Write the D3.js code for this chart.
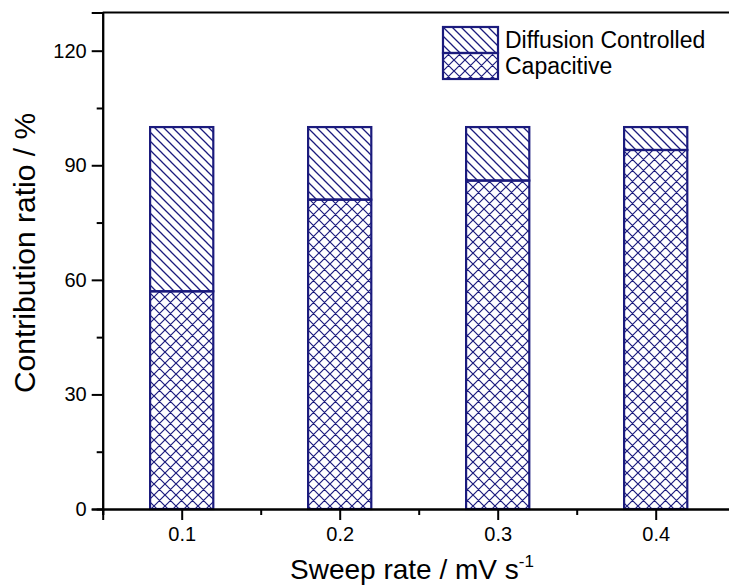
<!DOCTYPE html>
<html>
<head>
<meta charset="utf-8">
<script src="https://cdn.jsdelivr.net/npm/d3@7/dist/d3.min.js"></script>
<style>
  html, body { margin: 0; padding: 0; background: #fff; }
  svg { display: block; font-family: Arial, "Liberation Sans", sans-serif; }
</style>
</head>
<body>
<svg id="chart" width="729" height="588"></svg>
<script>
// Sweep rates (mV/s) and the share of charge storage from each mechanism (%)
const sweepRates = [0.1, 0.2, 0.3, 0.4];
const capacitive = [57, 81, 86, 94];
const diffusion = [43, 19, 14, 6];
const yTicks = [0, 30, 60, 90, 120];
const yMinorTicks = [15, 45, 75, 105];
const xMinorTicks = [0.05, 0.15, 0.25, 0.35, 0.45];
const seriesNames = ["Diffusion Controlled", "Capacitive"];

const navy = "#1b1b7d";
const svg = d3.select("#chart");

const x = d3.scaleLinear().domain([0.05, 0.45]).range([102.7, 734.7]);
const y = d3.scaleLinear().domain([0, 130]).range([509, 12.5]);
const barW = x(0.14) - x(0.1);

// Hatch fills
const defs = svg.append("defs");
const dp = defs.append("pattern").attr("id", "diag")
  .attr("patternUnits", "userSpaceOnUse").attr("width", 9).attr("height", 9);
dp.append("path").attr("d", "M-1,-1L10,10M-1,8L1,10M8,-1L10,1")
  .attr("stroke", navy).attr("stroke-width", 1.3).attr("fill", "none");
const cp = defs.append("pattern").attr("id", "cross")
  .attr("patternUnits", "userSpaceOnUse").attr("width", 11).attr("height", 11);
cp.append("path").attr("d", "M-1,-1L12,12M-1,10L1,12M10,-1L12,1M-1,12L12,-1M-1,1L1,-1M10,12L12,10")
  .attr("stroke", navy).attr("stroke-width", 1.2).attr("fill", "none");

// Stacked bars
const stacked = sweepRates.map((r, i) => ({ r, cap: capacitive[i], dif: diffusion[i] }));
const g = svg.append("g");
g.selectAll("rect.cap").data(stacked).join("rect").attr("class", "cap")
  .attr("x", d => x(d.r) - barW / 2).attr("width", barW)
  .attr("y", d => y(d.cap)).attr("height", d => y(0) - y(d.cap))
  .attr("fill", "url(#cross)").attr("stroke", navy).attr("stroke-width", 2.2);
g.selectAll("rect.dif").data(stacked).join("rect").attr("class", "dif")
  .attr("x", d => x(d.r) - barW / 2).attr("width", barW)
  .attr("y", d => y(d.cap + d.dif)).attr("height", d => y(d.cap) - y(d.cap + d.dif))
  .attr("fill", "url(#diag)").attr("stroke", navy).attr("stroke-width", 2.2);

// Axes
const fmtX = d3.format(".1f");
svg.append("g").attr("transform", `translate(0,${y(0)})`)
  .call(d3.axisBottom(x).tickValues(sweepRates).tickFormat(fmtX).tickSize(11).tickPadding(7));
svg.append("g").attr("transform", `translate(0,${y(0)})`)
  .call(d3.axisBottom(x).tickValues(xMinorTicks).tickFormat("").tickSize(6));
svg.append("g").attr("transform", `translate(${x(0.05)},0)`)
  .call(d3.axisLeft(y).tickValues(yTicks).tickSize(11).tickPadding(5));
svg.append("g").attr("transform", `translate(${x(0.05)},0)`)
  .call(d3.axisLeft(y).tickValues(yMinorTicks).tickFormat("").tickSize(6));
svg.selectAll(".domain").attr("stroke", "#000").attr("stroke-width", 2);
svg.selectAll(".tick line").attr("stroke", "#000").attr("stroke-width", 2);
svg.selectAll(".tick text").attr("font-size", 20).attr("fill", "#000")
  .attr("font-family", "Arial, 'Liberation Sans', sans-serif");
// top frame line
svg.append("line").attr("x1", x(0.05)).attr("x2", x(0.45))
  .attr("y1", y(130)).attr("y2", y(130)).attr("stroke", "#000").attr("stroke-width", 2);

// Axis titles
svg.append("text").attr("x", 412).attr("y", 579)
  .attr("text-anchor", "middle").attr("font-size", 28)
  .html('Sweep rate / mV s<tspan dy="-12" font-size="17">-1</tspan>');
svg.append("text").attr("transform", "translate(35,253) rotate(-90)")
  .attr("text-anchor", "middle").attr("font-size", 30)
  .text("Contribution ratio / %");

// Legend
const leg = svg.append("g").attr("transform", "translate(443,27)");
const legFills = ["url(#diag)", "url(#cross)"];
seriesNames.forEach((name, i) => {
  leg.append("rect").attr("x", 0).attr("y", i * 26).attr("width", 55).attr("height", 26)
    .attr("fill", legFills[i]).attr("stroke", navy).attr("stroke-width", 2.2);
  leg.append("text").attr("x", 62).attr("y", i * 26 + 21).attr("font-size", 23).text(name);
});
</script>
</body>
</html>
